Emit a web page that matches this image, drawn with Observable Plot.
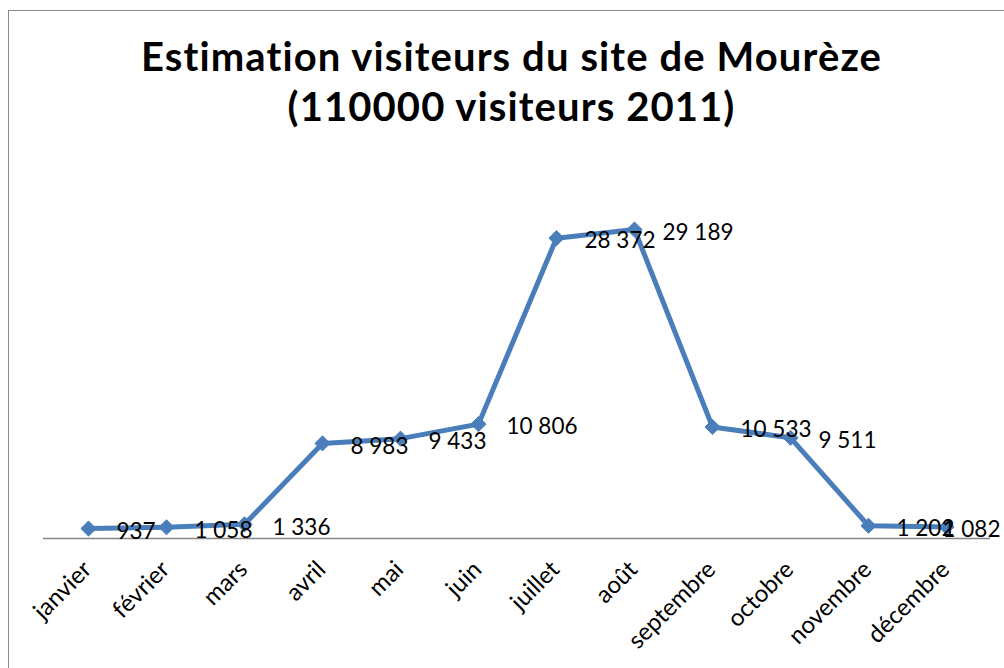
<!DOCTYPE html>
<html>
<head>
<meta charset="utf-8">
<script src="https://cdn.jsdelivr.net/npm/d3@7"></script>
<script src="https://cdn.jsdelivr.net/npm/@observablehq/plot@0.6"></script>
<style>
  html, body { margin: 0; padding: 0; background: #fff; overflow: hidden; width: 1004px; height: 668px; }
  #frame { position: absolute; left: 8px; top: 10px; width: 1100px; height: 800px; border: 1px solid #8a8a8a; box-sizing: border-box; }
  .title { position: absolute; left: 0; width: 1023px; text-align: center; font-family: Lato, sans-serif; font-weight: 700; font-size: 40px; letter-spacing: 1.1px; color: #000; white-space: nowrap; line-height: 1; }
  #t1 { top: 36px; }
  #t2 { top: 86px; }
  #chart { position: absolute; left: 0; top: 0; }
</style>
</head>
<body>
<div id="frame"></div>
<div id="chart"></div>
<div class="title" id="t1">Estimation visiteurs du site de Mourèze</div>
<div class="title" id="t2">(110000 visiteurs 2011)</div>
<script>
const months = ["janvier", "février", "mars", "avril", "mai", "juin", "juillet", "août", "septembre", "octobre", "novembre", "décembre"];
const visitors = [937, 1058, 1336, 8983, 9433, 10806, 28372, 29189, 10533, 9511, 1202, 1082];

const data = months.map((m, i) => ({month: m, value: visitors[i], last: i === months.length - 1}));
const fr = d3.formatLocale({decimal: ",", thousands: "\u00a0", grouping: [3], currency: ["", " €"]});
const fmt = fr.format(",d");
const blue = "#4A7EBB";

const chart = Plot.plot({
  width: 1004,
  height: 668,
  marginLeft: 43,
  marginRight: 14,
  marginTop: 0,
  marginBottom: 130,
  style: {background: "transparent", fontFamily: "Lato, sans-serif", overflow: "visible"},
  x: {type: "point", domain: months, padding: 0.5, axis: null},
  y: {domain: [0, 35000], range: [538, 538 - 35000 * 0.010586], axis: null},
  marks: [
    Plot.ruleY([0], {stroke: "#868686", strokeWidth: 1.5}),
    Plot.text(months, {x: d => d, y: 0, text: d => d, rotate: -45, textAnchor: "end", lineAnchor: "middle", dx: -1, dy: 27, fontSize: 24, fill: "#000"}),
    Plot.line(data, {x: "month", y: "value", stroke: blue, strokeWidth: 5, strokeLinejoin: "round"}),
    Plot.dot(data, {x: "month", y: "value", symbol: "diamond2", r: 6.8, fill: blue, stroke: blue, strokeWidth: 1}),
    Plot.text(data.filter(d => !d.last), {x: "month", y: "value", text: d => fmt(d.value), textAnchor: "start", lineAnchor: "middle", dx: 28, dy: 3, fontSize: 22.5, fill: "#000"}),
    Plot.text(data.filter(d => d.last), {x: "month", y: "value", text: d => fmt(d.value), textAnchor: "start", lineAnchor: "middle", dx: -4, dy: 3, fontSize: 22.5, fill: "#000"})
  ]
});
document.getElementById("chart").appendChild(chart);
</script>
</body>
</html>
